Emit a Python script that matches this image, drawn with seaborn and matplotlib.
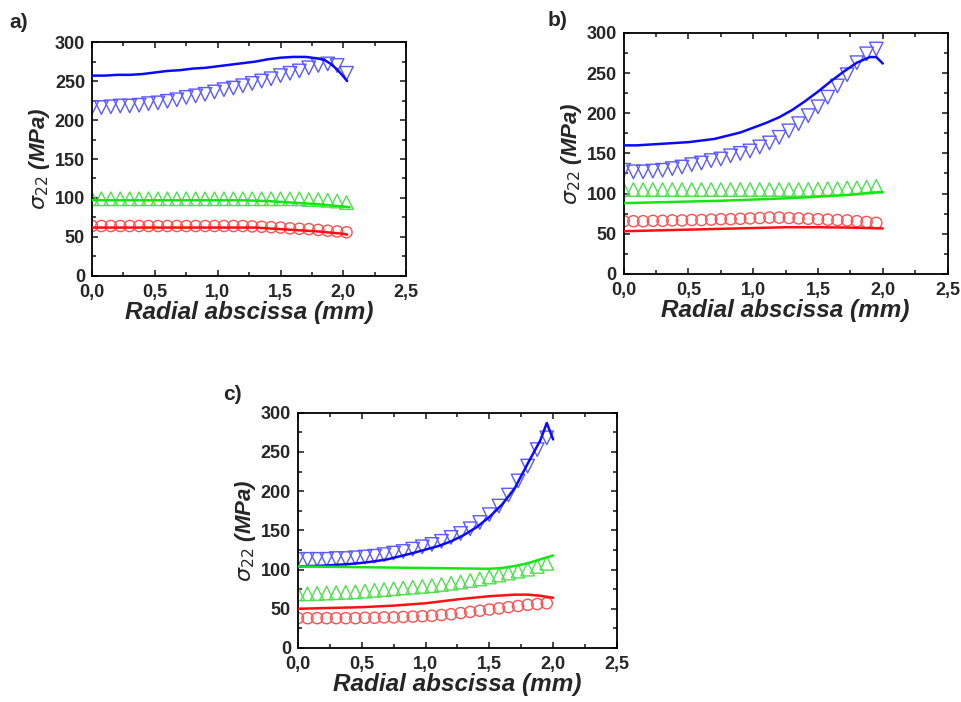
import numpy as np
import seaborn as sns
import matplotlib.pyplot as plt
from matplotlib.ticker import MultipleLocator, FuncFormatter

sns.set_style('ticks')
plt.rcParams['font.family'] = ['Liberation Sans', 'DejaVu Sans']
plt.rcParams['mathtext.fontset'] = 'dejavusans'

# marker abscissas (mm)
xm_a = [0.0, 0.075, 0.15, 0.225, 0.3, 0.375, 0.45, 0.525, 0.6, 0.675, 0.75, 0.825, 0.9, 0.975,
        1.05, 1.125, 1.2, 1.275, 1.35, 1.425, 1.5, 1.575, 1.65, 1.725, 1.8, 1.875, 1.95, 2.025]
xm_bc = xm_a[:27]

# ---- panel a ----
a_blue_m = [216, 216, 217, 218, 218, 219, 221, 222, 224, 226, 229, 231, 233, 236,
            239, 241, 244, 247, 250, 253, 257, 260, 263, 267, 270, 272, 270, 260]
a_green_m = [99] * 23 + [98, 98, 97, 96, 94]
a_red_m = [64] * 17 + [63.5, 63, 62.5, 62, 61, 60.5, 60, 59, 58, 57, 56]
a_blue_lx = [0, 0.1, 0.2, 0.3, 0.4, 0.5, 0.6, 0.7, 0.8, 0.9, 1.0, 1.1, 1.2, 1.3, 1.4, 1.5, 1.6, 1.7,
             1.8, 1.85, 1.9, 1.95, 2.0, 2.03]
a_blue_l = [257, 257, 258, 258, 259, 261, 263, 264, 266, 267, 269, 271, 273, 275, 278, 280, 281, 281,
            279, 277, 272, 265, 256, 250]
a_green_lx = [0, 0.4, 0.8, 1.2, 1.3, 1.4, 1.5, 1.6, 1.7, 1.8, 1.9, 2.0, 2.05]
a_green_l = [97, 97, 97, 97, 96.5, 96, 95, 94, 93, 92, 90.5, 89, 88]
a_red_lx = [0, 0.4, 0.8, 1.3, 1.4, 1.5, 1.6, 1.7, 1.8, 1.9, 2.0, 2.03]
a_red_l = [62, 62, 62, 62, 61, 60, 59, 58, 57, 55.5, 54, 53]

# ---- panel b ----
b_blue_m = [129, 127, 127, 128, 129, 131, 133, 136, 138, 141, 143, 147, 150, 153,
            158, 163, 170, 178, 187, 197, 208, 220, 234, 248, 263, 274, 280]
b_green_m = [105] * 20 + [105.5, 106, 106, 107, 107, 108, 109]
b_red_m = [65.5, 65.5, 65.5, 66, 66, 66.5, 66.5, 67, 67, 67.5, 68, 68, 68.5, 69,
           69.5, 70, 70, 69.5, 69, 68.5, 68, 67.5, 67, 66.5, 65.5, 64.5, 63.5]
b_blue_lx = [0, 0.1, 0.2, 0.3, 0.4, 0.5, 0.6, 0.7, 0.8, 0.9, 1.0, 1.1, 1.2, 1.3, 1.4, 1.5, 1.6,
             1.7, 1.8, 1.9, 1.95, 2.0]
b_blue_l = [160, 160, 161, 162, 163, 164, 166, 168, 172, 176, 182, 188, 195, 204, 215, 227, 240,
            252, 263, 270, 270, 262]
b_green_lx = [0, 0.25, 0.5, 0.75, 1.0, 1.25, 1.5, 1.75, 1.9, 2.0]
b_green_l = [88, 89, 90, 91, 92.5, 94, 96, 98.5, 101, 102]
b_red_lx = [0, 0.25, 0.5, 0.75, 1.0, 1.25, 1.5, 1.75, 2.0]
b_red_l = [53, 54, 55, 56, 57, 58, 58, 57.5, 56.5]

# ---- panel c ----
c_blue_m = [113, 113, 113, 113, 114, 114, 115, 116, 117, 119, 121, 123, 126, 129,
            132, 136, 141, 146, 152, 160, 170, 181, 195, 213, 232, 253, 268]
c_green_m = [69, 69, 69.5, 70, 70.5, 71, 71.5, 72.5, 73.5, 74.5, 75.5, 76.5, 77.5, 78.5,
             79.5, 81, 82.5, 84, 86, 88, 90.5, 93, 95.5, 98, 100.5, 104, 108]
c_red_m = [38, 38, 38, 38, 38, 38, 38, 38.5, 38.5, 39, 39, 39.5, 40, 40.5,
           41, 42, 43, 44.5, 46, 47.5, 49, 50.5, 52, 53.5, 55, 56, 57]
c_blue_lx = [0, 0.1, 0.2, 0.3, 0.4, 0.5, 0.6, 0.7, 0.8, 0.9, 1.0, 1.1, 1.2, 1.3, 1.4, 1.5, 1.6,
             1.7, 1.8, 1.9, 1.95, 2.0]
c_blue_l = [104, 104.5, 105, 106, 107, 108.5, 110.5, 113, 117, 121, 125.5, 130, 136, 144, 154, 167, 183,
            204, 235, 265, 287, 266]
c_green_lx = [0, 0.25, 0.5, 0.75, 1.0, 1.25, 1.5, 1.6, 1.7, 1.8, 1.9, 2.0]
c_green_l = [104, 103.5, 103, 102.5, 102, 101.5, 101, 102, 104.5, 108, 113, 118]
c_red_lx = [0, 0.25, 0.5, 0.75, 1.0, 1.25, 1.5, 1.7, 1.8, 1.9, 2.0]
c_red_l = [50, 51, 52, 54, 57, 62, 66, 68, 68, 66.5, 64]

panels = [
    ('a)', [0.0957, 0.607, 0.327, 0.333], (0.010, 0.982), xm_a,
     (a_blue_m, a_green_m, a_red_m),
     ((a_blue_lx, a_blue_l), (a_green_lx, a_green_l), (a_red_lx, a_red_l))),
    ('b)', [0.649, 0.610, 0.337, 0.343], (0.570, 0.985), xm_bc,
     (b_blue_m, b_green_m, b_red_m),
     ((b_blue_lx, b_blue_l), (b_green_lx, b_green_l), (b_red_lx, b_red_l))),
    ('c)', [0.310, 0.077, 0.332, 0.335], (0.232, 0.452), xm_bc,
     (c_blue_m, c_green_m, c_red_m),
     ((c_blue_lx, c_blue_l), (c_green_lx, c_green_l), (c_red_lx, c_red_l))),
]

line_cols = ['#0a0aff', '#14e614', '#ff1010']
mark_cols = ['#5a5aff', '#4de04d', '#ff5050']
markers = ['v', '^', 'o']
msizes = [95, 95, 65]

fig = plt.figure(figsize=(9.61, 7.02), dpi=100)

for label, rect, lpos, xm, mvals, lines in panels:
    ax = fig.add_axes(rect)
    for k in range(3):
        sns.scatterplot(x=xm, y=mvals[k], marker=markers[k], s=msizes[k],
                        facecolor='none', edgecolor=mark_cols[k], linewidth=1.0, ax=ax, zorder=2)
    for k in range(3):
        sns.lineplot(x=lines[k][0], y=lines[k][1], color=line_cols[k], lw=1.8,
                     sort=False, estimator=None, ax=ax, zorder=3)
    ax.set_xlim(0, 2.5)
    ax.set_ylim(0, 300)
    ax.xaxis.set_major_locator(MultipleLocator(0.5))
    ax.xaxis.set_minor_locator(MultipleLocator(0.25))
    ax.yaxis.set_major_locator(MultipleLocator(50))
    ax.yaxis.set_minor_locator(MultipleLocator(25))
    ax.xaxis.set_major_formatter(FuncFormatter(lambda v, p: f'{v:.1f}'.replace('.', ',')))
    ax.yaxis.set_major_formatter(FuncFormatter(lambda v, p: f'{v:.0f}'))
    ax.tick_params(which='both', direction='in', top=True, right=True, width=1.2)
    ax.tick_params(which='major', length=4.5, labelsize=13)
    ax.tick_params(axis='x', which='major', pad=6)
    ax.tick_params(axis='y', which='major', pad=5)
    ax.tick_params(which='minor', length=3)
    for t in ax.get_xticklabels() + ax.get_yticklabels():
        t.set_fontweight('bold')
    for s in ax.spines.values():
        s.set_linewidth(1.3)
        s.set_color('black')
    ax.set_xlabel('Radial abscissa (mm)', fontsize=17.5, fontweight='bold', fontstyle='italic', labelpad=0)
    ax.set_ylabel(r'$\sigma_{22}$ (MPa)', fontsize=16, fontweight='bold', fontstyle='italic', labelpad=2)
    fig.text(lpos[0], lpos[1], label, fontsize=15, fontweight='bold', va='top', ha='left')

fig.savefig('out.png', dpi=100)
